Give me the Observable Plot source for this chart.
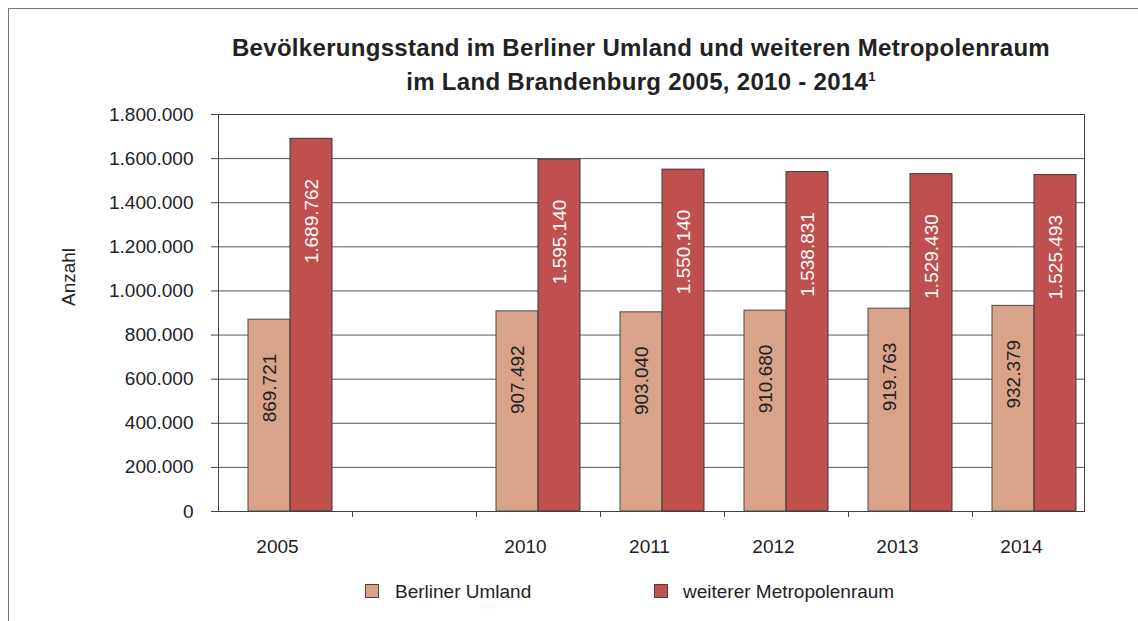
<!DOCTYPE html>
<html>
<head>
<meta charset="utf-8">
<script src="https://cdn.jsdelivr.net/npm/d3@7"></script>
<script src="https://cdn.jsdelivr.net/npm/@observablehq/plot@0.6"></script>
<style>
  body { margin: 0; background: #fff; }
  #wrap { position: relative; width: 1138px; height: 621px; overflow: hidden; background: #fff;
          font-family: "Liberation Sans", Arial, sans-serif; color: #222; }
  #border { position: absolute; left: 8px; top: 8px; width: 1200px; height: 700px;
            border-left: 1.5px solid #777; border-top: 1.5px solid #777; }
  .title { position: absolute; left: 0; width: 1282px; text-align: center; font-weight: bold;
           font-size: 24px; letter-spacing: 0.3px; line-height: normal; white-space: nowrap; }
  .title sup { font-size: 13px; vertical-align: 9px; line-height: 0; }
  #chart { position: absolute; left: 0; top: 0; }
  .leg { position: absolute; font-size: 19px; line-height: normal; white-space: nowrap; }
  .sw { position: absolute; width: 12px; height: 12px; border: 1px solid #444; }
</style>
</head>
<body>
<div id="wrap">
  <div id="border"></div>
  <div class="title" style="top:34px">Bevölkerungsstand im Berliner Umland und weiteren Metropolenraum</div>
  <div class="title" style="top:68px">im Land Brandenburg 2005, 2010 - 2014<sup>1</sup></div>
  <div id="chart"></div>
  <div id="legend"></div>
</div>
<script>
// ---- data ----
const years = ["2005", "2010", "2011", "2012", "2013", "2014"];
const xCategories = ["2005", "gap", "2010", "2011", "2012", "2013", "2014"];
const seriesNames = ["Berliner Umland", "weiterer Metropolenraum"];
const berlinerUmland = [869721, 907492, 903040, 910680, 919763, 932379];
const weitererMetropolenraum = [1689762, 1595140, 1550140, 1538831, 1529430, 1525493];
const yTicks = [0, 200000, 400000, 600000, 800000, 1000000, 1200000, 1400000, 1600000, 1800000];
const yLabel = "Anzahl";

// ---- styles ----
const colors = ["#D9A38A", "#C0504D"];
const labelColors = ["#222", "#fff"];

const fmt = d3.formatLocale({decimal: ",", thousands: ".", grouping: [3], currency: ["", "€"]}).format(",");

const dataU = years.map((y, i) => ({year: y, value: berlinerUmland[i]}));
const dataM = years.map((y, i) => ({year: y, value: weitererMetropolenraum[i]}));

const chart = Plot.plot({
  width: 1138,
  height: 621,
  marginLeft: 218,
  marginRight: 54,
  marginTop: 114,
  marginBottom: 110,
  style: {fontFamily: "'Liberation Sans', Arial, sans-serif", fontSize: "19px", color: "#222", background: "transparent", overflow: "visible"},
  x: {type: "band", domain: xCategories, range: [228, 1096], padding: 0, axis: null},
  y: {domain: [0, 1800000], axis: null},
  marks: [
    Plot.ruleY(yTicks, {stroke: "#555", strokeWidth: 1}),
    Plot.frame({stroke: "#444", strokeWidth: 1}),
    Plot.barY(dataU, {x: "year", y: "value", fill: colors[0], stroke: "#4a4a4a", strokeWidth: 1, insetLeft: 20, insetRight: 62}),
    Plot.barY(dataM, {x: "year", y: "value", fill: colors[1], stroke: "#3a3a3a", strokeWidth: 1, insetLeft: 62, insetRight: 20}),
    Plot.text(dataU, {x: "year", y: "value", text: d => fmt(d.value), rotate: -90, textAnchor: "end",
      dx: -21, dy: 34, fill: labelColors[0], fontSize: 19}),
    Plot.text(dataM, {x: "year", y: "value", text: d => fmt(d.value), rotate: -90, textAnchor: "end",
      dx: 21, dy: 40, fill: labelColors[1], fontSize: 19}),
    Plot.axisY({ticks: yTicks, tickFormat: fmt, tickSize: 7, tickPadding: 18, fontSize: 19, label: null, stroke: "#444"}),
    Plot.axisX({ticks: xCategories.slice(1), tickSize: 6, tickFormat: () => "", dx: -62, label: null, stroke: "#444"}),
    Plot.axisX({ticks: years, tickSize: 0, tickPadding: 28, dx: -13, fontSize: 19, label: null}),
    Plot.text([yLabel], {text: d => d, frameAnchor: "left", dx: -150, dy: -7, rotate: -90, fontSize: 19, fill: "#222"})
  ]
});
document.getElementById("chart").appendChild(chart);

// ---- legend ----
const legend = document.getElementById("legend");
const legPos = [[365, 395], [654, 683]];
seriesNames.forEach((name, i) => {
  const sw = document.createElement("div");
  sw.className = "sw";
  sw.style.left = legPos[i][0] + "px";
  sw.style.top = "584px";
  sw.style.background = colors[i];
  legend.appendChild(sw);
  const t = document.createElement("div");
  t.className = "leg";
  t.style.left = legPos[i][1] + "px";
  t.style.top = "581px";
  t.textContent = name;
  legend.appendChild(t);
});
</script>
</body>
</html>
